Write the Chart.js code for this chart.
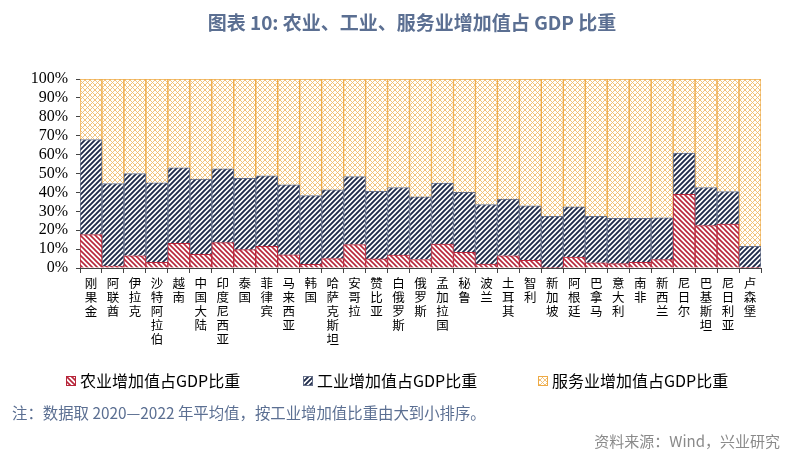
<!DOCTYPE html>
<html>
<head>
<meta charset="utf-8">
<script src="https://cdn.jsdelivr.net/npm/chart.js@4"></script>
<style>
  html, body { margin: 0; padding: 0; background: #fff; }
  #wrap { position: relative; width: 800px; height: 463px; overflow: hidden; }
  #chart { position: absolute; left: 0; top: 0; }
  .txt { position: absolute; font-family: "Noto Sans CJK SC", sans-serif; white-space: nowrap; }
  #title { left: 0; width: 824px; top: 8px; text-align: center; font-size: 19px; font-weight: bold; color: #5b6f92; }
  #note { left: 12px; top: 401px; font-size: 15.4px; color: #5b6f92; }
  #source { right: 20px; top: 430px; font-size: 15px; color: #8a8a8a; }
</style>
</head>
<body>
<div id="wrap">
  <canvas id="chart" width="800" height="463"></canvas>
  <div id="title" class="txt">图表 10: 农业、工业、服务业增加值占 GDP 比重</div>
  <div id="note" class="txt">注：数据取 2020—2022 年平均值，按工业增加值比重由大到小排序。</div>
  <div id="source" class="txt">资料来源：Wind，兴业研究</div>
</div>
<script>
// categories and series (percent of GDP, 2020-2022 average)
const countries = ['刚果金', '阿联酋', '伊拉克', '沙特阿拉伯', '越南', '中国大陆', '印度尼西亚', '泰国',
  '菲律宾', '马来西亚', '韩国', '哈萨克斯坦', '安哥拉', '赞比亚', '白俄罗斯', '俄罗斯', '孟加拉国',
  '秘鲁', '波兰', '土耳其', '智利', '新加坡', '阿根廷', '巴拿马', '意大利', '南非', '新西兰',
  '尼日尔', '巴基斯坦', '尼日利亚', '卢森堡'];
const agriculture = [17.7, 1.0, 6.5, 3.0, 13.0, 7.2, 13.4, 9.7, 11.5, 7.0, 2.0, 5.0, 12.4, 4.8, 6.9, 4.5,
  12.7, 8.3, 2.1, 6.5, 4.1, 0.1, 5.8, 2.8, 2.3, 3.0, 4.4, 39.0, 22.4, 23.3, 0.2];
const industry = [50.3, 43.7, 43.5, 42.0, 40.0, 39.8, 39.1, 37.8, 37.3, 37.0, 36.3, 36.3, 36.0, 35.8, 35.7, 33.1,
  32.2, 31.8, 31.5, 29.9, 28.8, 27.3, 26.5, 24.6, 24.0, 23.3, 22.1, 21.8, 20.2, 17.2, 11.3];
const services = [32.0, 55.3, 50.0, 55.0, 47.0, 53.0, 47.5, 52.5, 51.2, 56.0, 61.7, 58.7, 51.6, 59.4, 57.4, 62.4,
  55.1, 59.9, 66.4, 63.6, 67.1, 72.6, 67.7, 72.6, 73.7, 73.7, 73.5, 39.2, 57.4, 59.5, 88.5];
const seriesNames = ['农业增加值占GDP比重', '工业增加值占GDP比重', '服务业增加值占GDP比重'];
const yTicks = [0, 10, 20, 30, 40, 50, 60, 70, 80, 90, 100];

const RED = '#b8263a';
const NAVY = '#1f2b4a';
const ORANGE = '#eeaa45';

// hatch patterns
function hatch(color, kind, size, width) {
  const c = document.createElement('canvas');
  c.width = size; c.height = size;
  const g = c.getContext('2d');
  g.fillStyle = '#fff';
  g.fillRect(0, 0, size, size);
  g.strokeStyle = color;
  g.lineWidth = width;
  const fwd = () => {
    g.beginPath();
    for (let k = -1; k <= 1; k++) {
      g.moveTo(k * size - 1, size + 1);
      g.lineTo(k * size + size + 1, -1);
    }
    g.stroke();
  };
  const back = () => {
    g.beginPath();
    for (let k = -1; k <= 1; k++) {
      g.moveTo(k * size - 1, -1);
      g.lineTo(k * size + size + 1, size + 1);
    }
    g.stroke();
  };
  if (kind === '/' || kind === 'x') fwd();
  if (kind === '\\' || kind === 'x') back();
  return g.createPattern(c, 'repeat');
}

const ctx = document.getElementById('chart').getContext('2d');
const fills = [hatch(RED, '\\', 5, 1.6), hatch(NAVY, '/', 5, 1.9), hatch('#f0bd6e', 'x', 5, 0.9)];
const borders = [RED, '#66708a', ORANGE];

// legend drawn at the bottom, spread like the original
const legendPlugin = {
  id: 'spreadLegend',
  afterDraw(chart) {
    const c = chart.ctx;
    const xs = [66, 303, 538];
    const y = 381;
    c.save();
    chart.data.datasets.forEach((ds, i) => {
      c.fillStyle = ds.backgroundColor;
      c.fillRect(xs[i], y - 5, 10, 10);
      c.strokeStyle = ds.borderColor;
      c.lineWidth = 1;
      c.strokeRect(xs[i] + 0.5, y - 4.5, 9, 9);
      c.fillStyle = '#000';
      c.font = '16px "Noto Sans CJK SC"';
      c.textBaseline = 'middle';
      c.fillText(ds.label, xs[i] + 14, y);
    });
    c.restore();
  }
};

new Chart(ctx, {
  type: 'bar',
  data: {
    labels: countries.map(n => n.split('')),
    datasets: [agriculture, industry, services].map((d, i) => ({
      label: seriesNames[i],
      data: d,
      backgroundColor: fills[i],
      borderColor: borders[i],
      borderWidth: 1,
      categoryPercentage: 1,
      barPercentage: 1
    }))
  },
  options: {
    responsive: false,
    animation: false,
    layout: { padding: { top: 79, left: 16, right: 39, bottom: 0 } },
    plugins: {
      legend: { display: false },
      tooltip: { enabled: false }
    },
    scales: {
      x: {
        stacked: true,
        grid: { display: true, drawOnChartArea: false, drawTicks: true, tickLength: 5, color: '#444' },
        border: { display: true, color: '#444' },
        ticks: {
          autoSkip: false, maxRotation: 0, minRotation: 0, padding: 3, color: '#000',
          font: { family: '"Noto Sans CJK SC"', size: 12.5, lineHeight: 1.13 }
        },
        afterFit(scale) { scale.height = 195; }
      },
      y: {
        stacked: true,
        min: 0, max: 100,
        afterBuildTicks(scale) { scale.ticks = yTicks.map(v => ({ value: v })); },
        grid: { display: true, drawOnChartArea: false, drawTicks: true, tickLength: 4, color: '#444' },
        border: { display: true, color: '#444' },
        ticks: {
          autoSkip: false, color: '#000', padding: 8,
          font: { family: '"Liberation Serif"', size: 16 },
          callback: v => v + '%'
        },
        afterFit(scale) { scale.width = 64; }
      }
    }
  },
  plugins: [legendPlugin]
});
</script>
</body>
</html>
